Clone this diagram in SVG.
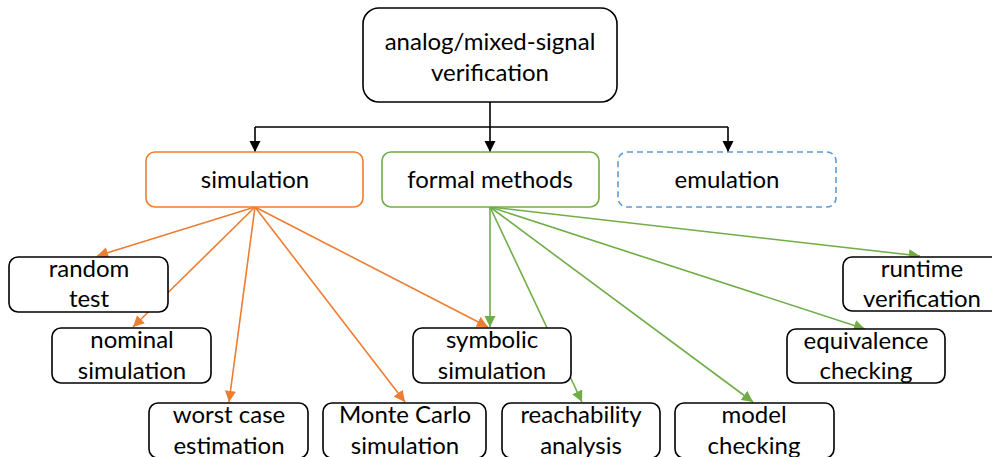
<svg xmlns="http://www.w3.org/2000/svg" width="992" height="457" viewBox="0 0 992 457">
  <style>
    .box { fill: #ffffff; stroke: #000000; stroke-width: 1.6; }
    .sim { fill: #ffffff; stroke: #ED7D31; stroke-width: 1.6; }
    .fm { fill: #ffffff; stroke: #70AD47; stroke-width: 1.6; }
    .emu { fill: #ffffff; stroke: #5B9BD5; stroke-width: 1.6; stroke-dasharray: 6 4; }
    .lbl { font-family: Lato, "Liberation Sans", sans-serif; font-size: 24px; fill: #000000; text-anchor: middle; }
    .blk { stroke: #000000; stroke-width: 1.6; fill: none; }
    .org { stroke: #ED7D31; stroke-width: 1.6; fill: none; marker-end: url(#ahOrange); }
    .grn { stroke: #70AD47; stroke-width: 1.6; fill: none; marker-end: url(#ahGreen); }
  </style>
  <defs>
    <marker id="ahBlack" viewBox="0 0 10 10" refX="10" refY="5" markerWidth="7" markerHeight="7" markerUnits="strokeWidth" orient="auto">
      <path d="M0,0 L10,5 L0,10 Z" fill="#000000"/>
    </marker>
    <marker id="ahOrange" viewBox="0 0 10 10" refX="10" refY="5" markerWidth="7" markerHeight="7" markerUnits="strokeWidth" orient="auto">
      <path d="M0,0 L10,5 L0,10 Z" fill="#ED7D31"/>
    </marker>
    <marker id="ahGreen" viewBox="0 0 10 10" refX="10" refY="5" markerWidth="7" markerHeight="7" markerUnits="strokeWidth" orient="auto">
      <path d="M0,0 L10,5 L0,10 Z" fill="#70AD47"/>
    </marker>
  </defs>

  <g id="connectors">
    <!-- root to the three method families -->
    <path class="blk" d="M490,102 V152" marker-end="url(#ahBlack)"/>
    <path class="blk" d="M255,127 H728"/>
    <path class="blk" d="M255,127 V152" marker-end="url(#ahBlack)"/>
    <path class="blk" d="M728,127 V152" marker-end="url(#ahBlack)"/>
    <!-- simulation branches -->
    <path class="org" d="M255,207 L97,256"/>
    <path class="org" d="M255,207 L133,327"/>
    <path class="org" d="M255,207 L229,402"/>
    <path class="org" d="M255,207 L405,402"/>
    <path class="org" d="M255,207 L488,327"/>
    <!-- formal methods branches -->
    <path class="grn" d="M490,207 L490,327"/>
    <path class="grn" d="M490,207 L582,402"/>
    <path class="grn" d="M490,207 L753,402"/>
    <path class="grn" d="M490,207 L865,329"/>
    <path class="grn" d="M490,207 L920,256"/>
  </g>

  <g id="root">
    <rect class="box" x="363" y="8" width="254" height="94" rx="16"/>
    <text class="lbl" x="490" y="50">analog/mixed-signal</text>
    <text class="lbl" x="490" y="81">verification</text>
  </g>

  <g id="simulation">
    <rect class="sim" x="146" y="152" width="217" height="55" rx="9"/>
    <text class="lbl" x="255" y="188">simulation</text>
  </g>

  <g id="formal-methods">
    <rect class="fm" x="382" y="152" width="217" height="55" rx="9"/>
    <text class="lbl" x="490" y="188">formal methods</text>
  </g>

  <g id="emulation">
    <rect class="emu" x="618" y="152" width="218" height="55" rx="9"/>
    <text class="lbl" x="727" y="188">emulation</text>
  </g>

  <g id="random-test">
    <rect class="box" x="9" y="257" width="159" height="55" rx="9"/>
    <text class="lbl" x="89" y="277">random</text>
    <text class="lbl" x="89" y="307">test</text>
  </g>

  <g id="nominal-simulation">
    <rect class="box" x="52" y="328" width="159" height="55" rx="9"/>
    <text class="lbl" x="132" y="348">nominal</text>
    <text class="lbl" x="132" y="379">simulation</text>
  </g>

  <g id="worst-case-estimation">
    <rect class="box" x="149" y="403" width="159" height="55" rx="9"/>
    <text class="lbl" x="229" y="423">worst case</text>
    <text class="lbl" x="229" y="454">estimation</text>
  </g>

  <g id="monte-carlo-simulation">
    <rect class="box" x="323" y="403" width="163" height="55" rx="9"/>
    <text class="lbl" x="405" y="423">Monte Carlo</text>
    <text class="lbl" x="405" y="454">simulation</text>
  </g>

  <g id="symbolic-simulation">
    <rect class="box" x="413" y="328" width="158" height="55" rx="9"/>
    <text class="lbl" x="492" y="348">symbolic</text>
    <text class="lbl" x="492" y="379">simulation</text>
  </g>

  <g id="reachability-analysis">
    <rect class="box" x="502" y="403" width="158" height="55" rx="9"/>
    <text class="lbl" x="581" y="423">reachability</text>
    <text class="lbl" x="581" y="454">analysis</text>
  </g>

  <g id="model-checking">
    <rect class="box" x="675" y="403" width="159" height="55" rx="9"/>
    <text class="lbl" x="754" y="423">model</text>
    <text class="lbl" x="754" y="454">checking</text>
  </g>

  <g id="equivalence-checking">
    <rect class="box" x="787" y="329" width="158" height="54" rx="9"/>
    <text class="lbl" x="866" y="349">equivalence</text>
    <text class="lbl" x="866" y="379">checking</text>
  </g>

  <g id="runtime-verification">
    <rect class="box" x="843" y="257" width="158" height="54" rx="9"/>
    <text class="lbl" x="922" y="277">runtime</text>
    <text class="lbl" x="922" y="307">verification</text>
  </g>
</svg>
